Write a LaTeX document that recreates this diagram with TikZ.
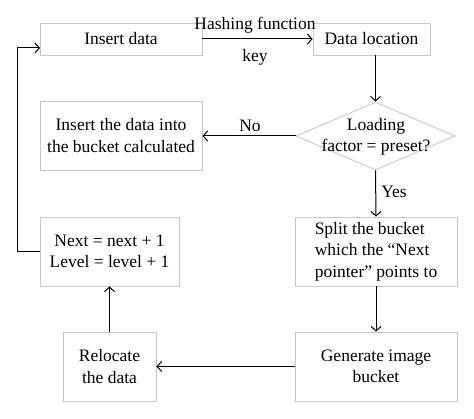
\documentclass[tikz,border=0pt]{standalone}
\usepackage{fontspec}
\setmainfont{Liberation Serif}
\usetikzlibrary{arrows.meta,shapes.geometric}
\begin{document}
\begin{tikzpicture}[x=1pt,y=-1pt,
  box/.style={draw=black!22, line width=0.9pt, inner sep=0pt, align=center,
    font=\fontsize{17.5}{21.5}\selectfont},
  lbl/.style={inner sep=0pt, font=\fontsize{17.5}{21.5}\selectfont},
  conn/.style={line width=1pt, -{Straight Barb[length=4.5pt,width=10pt]}}]
\useasboundingbox (0,0) rectangle (474,419);
\node[box, minimum width=162pt, minimum height=32pt] (insert) at (121,39) {Insert data};
\node[box, minimum width=117pt, minimum height=32pt] (loc) at (371.5,39) {Data location};
\node[diamond, draw=black!22, line width=0.9pt, inner sep=0pt, minimum width=159pt, minimum height=68pt] (dec) at (375.5,136) {};
\node[lbl, align=center] (dectext) at (376,137) {Loading\\factor = preset?};
\node[box, minimum width=162pt, minimum height=69pt] (nobox) at (121,135.5) {Insert the data into\\the bucket calculated};
\node[box, minimum width=162pt, minimum height=69pt, align=left] (split) at (376,251.5) {Split the bucket\\which the “Next\\pointer” points to};
\node[box, minimum width=162pt, minimum height=69pt] (gen) at (376,366.5) {Generate image\\bucket};
\node[box, minimum width=93pt, minimum height=69pt] (reloc) at (109.5,366.5) {Relocate\\the data};
\node[box, minimum width=139pt, minimum height=69pt] (next) at (109.5,251.5) {Next = next + 1\\Level = level + 1};
\node[lbl] (hash) at (255,25) {Hashing function};
\node[lbl] (key) at (255,57) {key};
\node[lbl] (no) at (250,126) {No};
\node[lbl] (yes) at (394,192) {Yes};
\coordinate (inentry) at (40,48);
\coordinate (loopcorner) at (17,48);
\draw[conn] (insert.east) -- (loc.west);
\draw[conn] (dec.north |- loc.south) -- (dec.north);
\draw[conn] (dec.west) -- (nobox.east |- dec.west);
\draw[conn] (dec.south) -- (split.north);
\draw[conn] (split.south) -- (gen.north);
\draw[conn] (gen.west) -- (reloc.east);
\draw[conn] (reloc.north) -- (next.south);
\draw[conn] (next.west) -| (loopcorner) -- (inentry);
\end{tikzpicture}
\end{document}
